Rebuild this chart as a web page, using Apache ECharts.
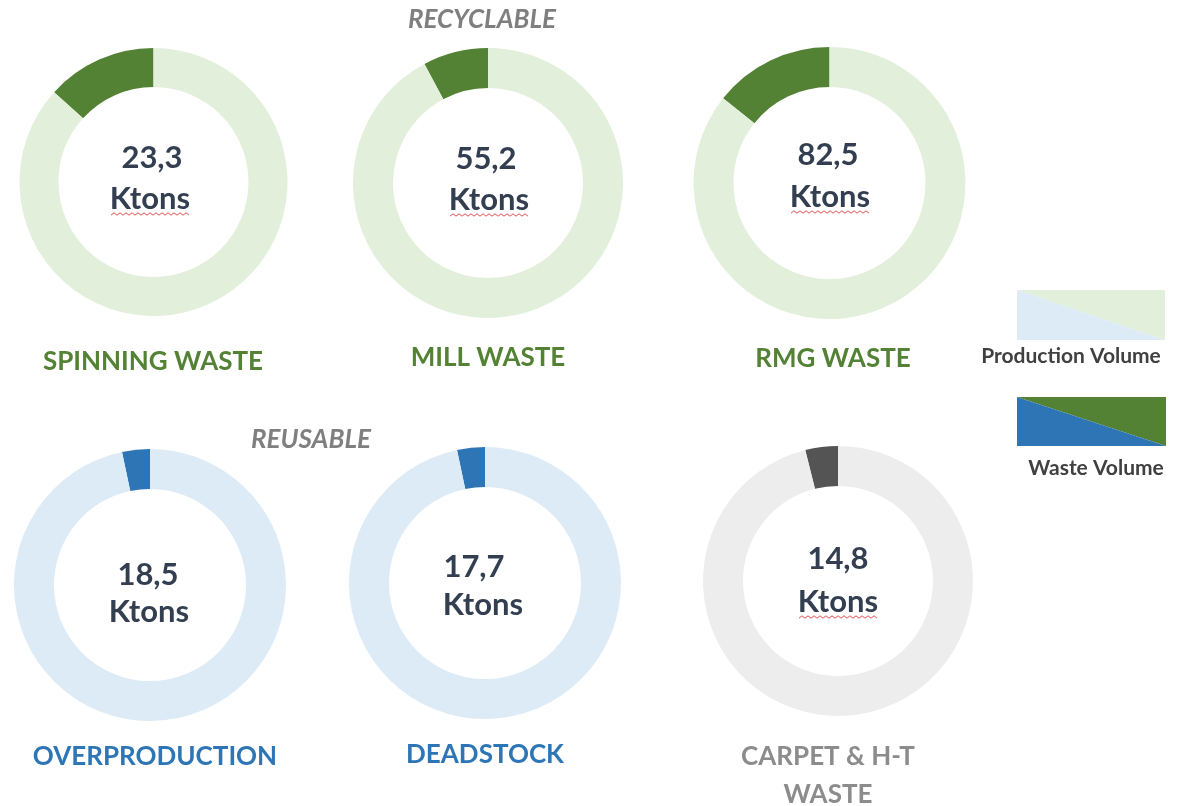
<!DOCTYPE html>
<html>
<head>
<meta charset="utf-8">
<script src="https://cdn.jsdelivr.net/npm/echarts@6/dist/echarts.min.js"></script>
<style>
html,body{margin:0;padding:0;background:#fff;}
#main{width:1180px;height:806px;}
</style>
</head>
<body>
<div id="main"></div>
<script>
// ---- data ----
var categories = ['SPINNING WASTE', 'MILL WASTE', 'RMG WASTE', 'OVERPRODUCTION', 'DEADSTOCK', 'CARPET & H-T\nWASTE'];
var totalKtons = ['23,3', '55,2', '82,5', '18,5', '17,7', '14,8'];
var wasteShare = [13.3, 7.8, 14.3, 3.3, 3.3, 3.9];
var productionShare = [86.7, 92.2, 85.7, 96.7, 96.7, 96.1];
var groupTitles = ['RECYCLABLE', 'REUSABLE'];
var legendNames = ['Production Volume', 'Waste Volume'];

// ---- styles / layout ----
var FONT = 'Lato, "Open Sans", sans-serif';
var palettes = [
  {light: '#E2EFDA', dark: '#548235', label: '#548235'},
  {light: '#E2EFDA', dark: '#548235', label: '#548235'},
  {light: '#E2EFDA', dark: '#548235', label: '#548235'},
  {light: '#DDEBF7', dark: '#2E75B6', label: '#2E75B6'},
  {light: '#DDEBF7', dark: '#2E75B6', label: '#2E75B6'},
  {light: '#EDEDED', dark: '#545454', label: '#8C8C8C'}
];
var layout = [
  {c: [153.5, 182], r: [95, 134], num: [152, 158], kt: [150, 199], lab: [153, 362], squiggle: true},
  {c: [488, 183], r: [95, 135], num: [486, 159], kt: [489, 200], lab: [488, 358], squiggle: true},
  {c: [829.5, 183], r: [96, 136], num: [828, 155], kt: [830, 197], lab: [833, 359], squiggle: true},
  {c: [150, 585], r: [96, 136], num: [148, 575], kt: [149, 612], lab: [155, 757], squiggle: false},
  {c: [485, 583], r: [96, 136], num: [474, 567], kt: [483, 605], lab: [485, 755], squiggle: false},
  {c: [838, 581], r: [95, 135], num: [838, 559], kt: [838, 602], lab: [828, 776], squiggle: true}
];

var series = [];
var graphics = [];
categories.forEach(function (name, i) {
  var p = palettes[i], L = layout[i];
  series.push({
    type: 'pie',
    name: name,
    center: L.c,
    radius: L.r,
    startAngle: 90,
    clockwise: false,
    silent: true,
    animation: false,
    label: {show: false},
    labelLine: {show: false},
    data: [
      {name: legendNames[1], value: wasteShare[i], itemStyle: {color: p.dark}},
      {name: legendNames[0], value: productionShare[i], itemStyle: {color: p.light}}
    ]
  });
  graphics.push({
    type: 'text', x: L.num[0], y: L.num[1],
    style: {text: totalKtons[i], font: 'bold 31px ' + FONT, fill: '#333F50', textAlign: 'center', textVerticalAlign: 'middle'}
  });
  graphics.push({
    type: 'text', x: L.kt[0], y: L.kt[1],
    style: {text: 'Ktons', font: 'bold 31px ' + FONT, fill: '#333F50', textAlign: 'center', textVerticalAlign: 'middle'}
  });
  if (L.squiggle) {
    var pts = [], x0 = L.kt[0] - 39, y0 = L.kt[1] + 15;
    for (var k = 0; k <= 26; k++) pts.push([x0 + k * 3, y0 + (k % 2 ? -1.2 : 1.2)]);
    graphics.push({type: 'polyline', shape: {points: pts}, style: {stroke: '#E05050', lineWidth: 1, fill: null}});
  }
  graphics.push({
    type: 'text', x: L.lab[0], y: L.lab[1],
    style: {text: name, font: 'bold 26px ' + FONT, fill: p.label, textAlign: 'center', textVerticalAlign: 'middle', lineHeight: 38}
  });
});

// group titles
graphics.push({type: 'text', x: 482, y: 20, style: {text: groupTitles[0], font: 'italic bold 26px ' + FONT, fill: '#7F7F7F', textAlign: 'center', textVerticalAlign: 'middle'}});
graphics.push({type: 'text', x: 311, y: 440, style: {text: groupTitles[1], font: 'italic bold 26px ' + FONT, fill: '#7F7F7F', textAlign: 'center', textVerticalAlign: 'middle'}});

// legend swatches (split diagonally)
function swatch(x, y, w, h, colBL, colTR) {
  graphics.push({type: 'polygon', shape: {points: [[x, y], [x + w, y], [x + w, y + h]]}, style: {fill: colTR}});
  graphics.push({type: 'polygon', shape: {points: [[x, y], [x + w, y + h], [x, y + h]]}, style: {fill: colBL}});
}
swatch(1017, 290, 148, 50, '#DDEBF7', '#E2EFDA');
swatch(1017, 397, 149, 49, '#2E75B6', '#548235');
graphics.push({type: 'text', x: 1071, y: 356, style: {text: legendNames[0], font: 'bold 21px ' + FONT, fill: '#404040', textAlign: 'center', textVerticalAlign: 'middle'}});
graphics.push({type: 'text', x: 1096, y: 468, style: {text: legendNames[1], font: 'bold 21px ' + FONT, fill: '#404040', textAlign: 'center', textVerticalAlign: 'middle'}});

var chart = echarts.init(document.getElementById('main'), null, {renderer: 'canvas'});
chart.setOption({
  backgroundColor: '#ffffff',
  animation: false,
  series: series,
  graphic: {elements: graphics}
});
</script>
</body>
</html>
